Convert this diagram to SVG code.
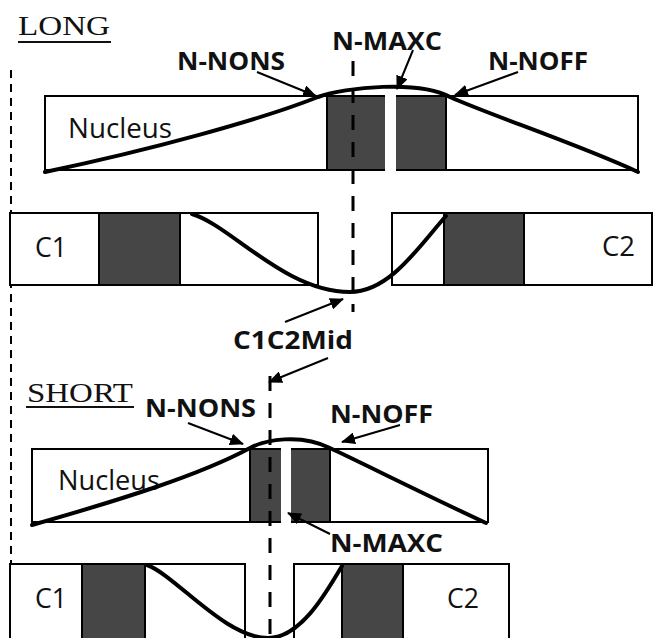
<svg xmlns="http://www.w3.org/2000/svg" width="655" height="638" viewBox="0 0 655 638">
  <style>
    .box { fill: #ffffff; stroke: #000000; stroke-width: 2; }
    .core { fill: #464646; stroke: #000000; stroke-width: 2; }
    .gap { fill: #ffffff; stroke: none; }
    .curve { fill: none; stroke: #000000; stroke-width: 4; stroke-linecap: round; stroke-linejoin: round; }
    .axis { fill: none; stroke: #000000; stroke-width: 3; stroke-dasharray: 15 12; }
    .edge { fill: none; stroke: #000000; stroke-width: 2; stroke-dasharray: 8 6; }
    .arrow { fill: none; stroke: #000000; stroke-width: 2; marker-end: url(#head); }
    .label { font-family: "Open Sans", "Liberation Sans", sans-serif; font-weight: bold; font-size: 25px; fill: #111111; }
    .name { font-family: "Open Sans", "Liberation Sans", sans-serif; font-size: 27px; fill: #111111; }
    .title { font-family: "Liberation Serif", serif; font-size: 27px; fill: #111111; }
    .uline { stroke: #111111; stroke-width: 2; }
  </style>
  <defs>
    <marker id="head" markerUnits="userSpaceOnUse" markerWidth="14" markerHeight="12" refX="13" refY="6" orient="auto">
      <path d="M0,0 L14,6 L0,12 z" fill="#000000"/>
    </marker>
  </defs>

  <rect width="655" height="638" fill="#ffffff"/>

  <!-- left guide line -->
  <line class="edge" x1="11" y1="70" x2="11" y2="564"/>

  <!-- LONG panel -->
  <g id="title-long">
    <text class="title" x="18" y="35" textLength="92" lengthAdjust="spacingAndGlyphs">LONG</text>
    <line class="uline" x1="18" y1="42" x2="111" y2="42"/>
  </g>

  <g id="nucleus-long">
    <rect class="box" x="45" y="96" width="593" height="74"/>
    <rect class="core" x="327" y="96" width="119" height="74"/>
    <rect class="gap" x="385" y="88" width="11" height="83"/>
    <text class="name" x="68" y="138" textLength="104" lengthAdjust="spacingAndGlyphs">Nucleus</text>
  </g>

  <g id="c1-long">
    <rect class="box" x="10" y="213" width="308" height="72"/>
    <rect class="core" x="99" y="213" width="81" height="72"/>
    <text class="name" x="35" y="257" textLength="32" lengthAdjust="spacingAndGlyphs">C1</text>
  </g>

  <g id="c2-long">
    <rect class="box" x="392" y="213" width="260" height="72"/>
    <rect class="core" x="444" y="213" width="80" height="72"/>
    <text class="name" x="602" y="256" textLength="33" lengthAdjust="spacingAndGlyphs">C2</text>
  </g>

  <line class="axis" x1="353" y1="61" x2="353" y2="312"/>

  <path id="profile-nucleus-long" class="curve" d="M45,172 C150,150 260,120 318,97 C345,87 420,80 450,97 C490,115 580,145 638,172"/>
  <path id="profile-c1c2-long" class="curve" d="M192,214 C230,225 285,292 350,292 C390,292 420,245 446,216"/>

  <!-- SHORT panel -->
  <g id="title-short">
    <text class="title" x="27" y="402" textLength="106" lengthAdjust="spacingAndGlyphs">SHORT</text>
    <line class="uline" x1="26" y1="407" x2="134" y2="407"/>
  </g>

  <g id="nucleus-short">
    <rect class="box" x="32" y="449" width="456" height="73"/>
    <rect class="core" x="250" y="449" width="80" height="73"/>
    <rect class="gap" x="281" y="440" width="10" height="83"/>
    <text class="name" x="58" y="490" textLength="102" lengthAdjust="spacingAndGlyphs">Nucleus</text>
  </g>

  <g id="c1-short">
    <rect class="box" x="10" y="564" width="235" height="80"/>
    <rect class="core" x="82" y="564" width="63" height="80"/>
    <text class="name" x="35" y="608" textLength="32" lengthAdjust="spacingAndGlyphs">C1</text>
  </g>

  <g id="c2-short">
    <rect class="box" x="294" y="564" width="215" height="80"/>
    <rect class="core" x="342" y="564" width="61" height="80"/>
    <text class="name" x="447" y="608" textLength="32" lengthAdjust="spacingAndGlyphs">C2</text>
  </g>

  <line class="axis" x1="270" y1="376" x2="270" y2="640"/>

  <path id="profile-nucleus-short" class="curve" d="M32,525 C120,500 200,475 250,448 C265,440 300,433 330,448 C360,462 430,497 486,523"/>
  <path id="profile-c1c2-short" class="curve" d="M147,565 C175,575 225,638 268,638 C300,638 325,595 342,566"/>

  <!-- labels -->
  <g id="labels">
    <text class="label" x="177" y="70" textLength="108" lengthAdjust="spacingAndGlyphs">N-NONS</text>
    <text class="label" x="332" y="50" textLength="110" lengthAdjust="spacingAndGlyphs">N-MAXC</text>
    <text class="label" x="488" y="70" textLength="100" lengthAdjust="spacingAndGlyphs">N-NOFF</text>
    <text class="label" x="233" y="349" textLength="120" lengthAdjust="spacingAndGlyphs">C1C2Mid</text>
    <text class="label" x="145" y="417" textLength="111" lengthAdjust="spacingAndGlyphs">N-NONS</text>
    <text class="label" x="330" y="423" textLength="103" lengthAdjust="spacingAndGlyphs">N-NOFF</text>
    <text class="label" x="330" y="552" textLength="113" lengthAdjust="spacingAndGlyphs">N-MAXC</text>
  </g>

  <!-- pointer arrows -->
  <g id="connectors">
    <line class="arrow" x1="257" y1="72" x2="316" y2="96"/>
    <line class="arrow" x1="413" y1="50" x2="397" y2="89"/>
    <line class="arrow" x1="518" y1="72" x2="455" y2="95"/>
    <line class="arrow" x1="285" y1="322" x2="343" y2="299"/>
    <line class="arrow" x1="328" y1="358" x2="269" y2="382"/>
    <line class="arrow" x1="188" y1="423" x2="243" y2="444"/>
    <line class="arrow" x1="400" y1="425" x2="342" y2="442"/>
    <line class="arrow" x1="330" y1="534" x2="288" y2="513"/>
  </g>
</svg>
